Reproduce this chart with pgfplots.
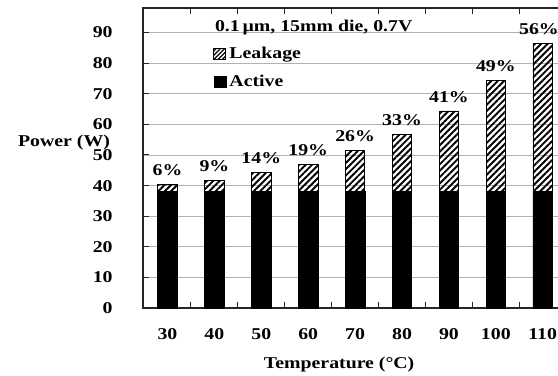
\documentclass[border=0pt]{standalone}
\usepackage{fontspec}
\setmainfont{Liberation Serif}[FakeStretch=1.2]
\usepackage{pgfplots}
\pgfplotsset{compat=1.18}
\usetikzlibrary{patterns.meta}
\newcommand{\ff}{\fontsize{16.5}{18}\selectfont\bfseries}
\begin{document}
\begin{tikzpicture}
\begin{axis}[
  x=46.9pt, y=3.06pt,
  xmin=-0.52, xmax=8.6, ymin=0, ymax=98,
  clip=false,
  ybar stacked, bar width=19.5pt,
  axis line style={line width=1.6pt, black!85},
  /pgf/number format/assume math mode=true,
  ticklabel style={font=\ff},
  xtick={0.5,1.5,2.5,3.5,4.5,5.5,6.5,7.5},
  xticklabels={},
  extra x ticks={0,1,2,3,4,5,6,7,8},
  extra x tick labels={30,40,50,60,70,80,90,100,110},
  extra x tick style={major tick length=0pt},
  xticklabel style={yshift=-17pt},
  ytick={0,10,...,90},
  yticklabel style={anchor=east, xshift=-27pt},
  major tick length=6pt,
  tick style={black!85, line width=1pt},
  ymajorgrids, grid style={black!30, line width=0.8pt},
  reverse legend,
  legend style={draw=none, fill=none, at={(axis cs:0.97,86)}, anchor=north west,
    font=\ff, row sep=11pt, inner sep=0pt, nodes={inner xsep=3pt}},
  legend cell align=left,
]
\addplot[fill=black, draw=black, line width=0.6pt,
  legend image code/.code={\draw[fill=black,draw=black] (0pt,-5.5pt) rectangle (12pt,5.5pt);}]
  coordinates {(0,38) (1,38) (2,38) (3,38) (4,38) (5,38) (6,38) (7,38) (8,38)};
\addlegendentry{Active}
\addplot[pattern={Lines[angle=45,distance=4.5pt,line width=1.9pt]}, draw=black, line width=0.8pt,
  legend image code/.code={\draw[pattern={Lines[angle=45,distance=3pt,line width=1.3pt]},draw=black] (0pt,-5.5pt) rectangle (12pt,5.5pt);}]
  coordinates {(0,2.4) (1,3.8) (2,6.2) (3,8.9) (4,13.4)
   (5,18.7) (6,26.4) (7,36.5) (8,48.4)};
\addlegendentry{Leakage}
\addplot[draw=none, fill=none, forget plot,
  nodes near coords, point meta=explicit symbolic,
  nodes near coords style={font=\ff, anchor=south, yshift=5pt, text=black, inner xsep=0pt}]
  coordinates {(0,0.01) [6\%] (1,0.01) [9\%] (2,0.01) [14\%] (3,0.01) [19\%] (4,0.01) [26\%]
   (5,0.01) [33\%] (6,0.01) [41\%] (7,0.01) [49\%] (7.92,0.01) [56\%]};
\node[anchor=west, inner sep=0pt, font=\ff] at (axis cs:1.01,91.8) {0.1\,µm, 15mm die, 0.7V};
\node[anchor=east, inner sep=0pt, font=\ff] at (axis cs:-0.52,54.2) [xshift=-33pt] {Power (W)};
\node[anchor=center, inner sep=0pt, font=\ff] at (axis cs:3.66,0) [yshift=-57pt] {Temperature (°C)};
\coordinate (bbl) at (axis cs:-3.571,-21.9);
\coordinate (bbr) at (axis cs:8.326,100.65);
\end{axis}
\pgfresetboundingbox
\path[use as bounding box] (bbl) rectangle (bbr);
\end{tikzpicture}
\end{document}
